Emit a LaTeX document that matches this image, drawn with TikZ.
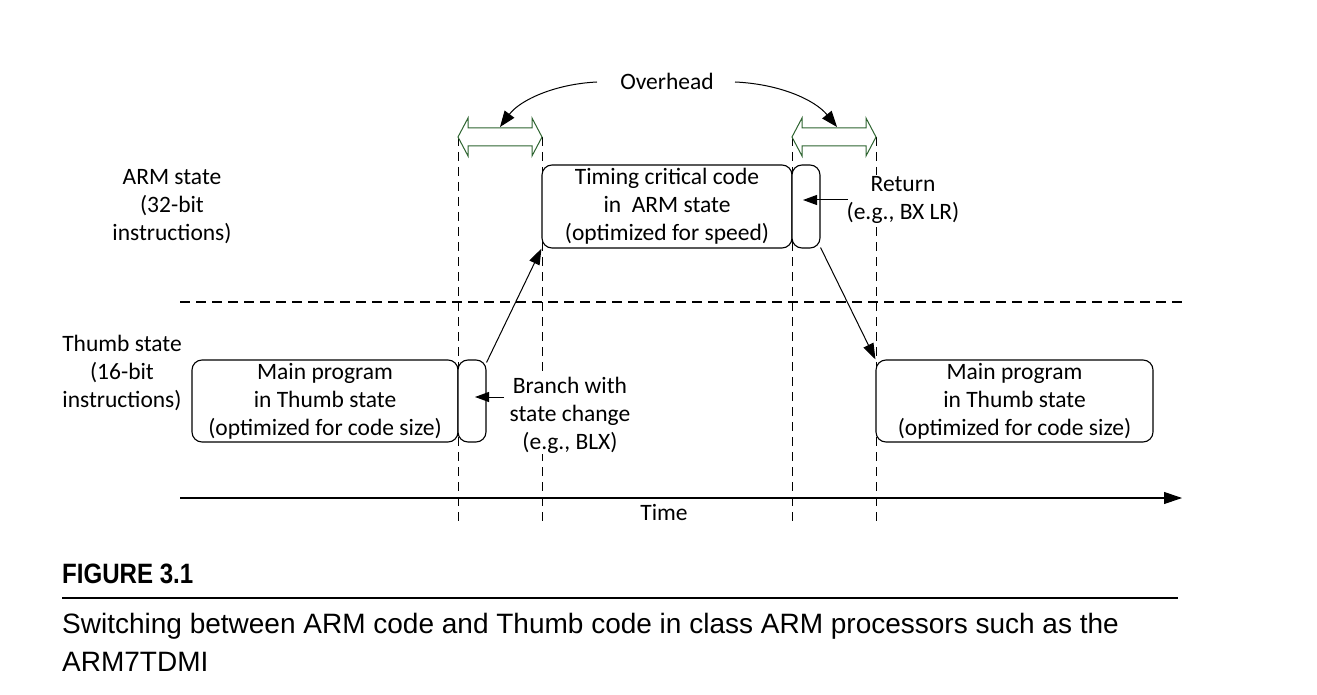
\documentclass[tikz,border=0pt]{standalone}
\usepackage{fontspec}
\setmainfont{Carlito}
\newfontfamily\capfont{Liberation Sans}
\newfontfamily\figfont[FakeStretch=0.86]{Liberation Sans}
\usetikzlibrary{arrows.meta,calc}
\definecolor{ovgreen}{RGB}{46,100,48}
\tikzset{
  box/.style={draw, line width=1.1pt, rounded corners=10pt, fill=white, align=center,
    inner sep=0pt, font=\fontsize{23.5}{28}\selectfont},
  lbl/.style={align=center, inner sep=1pt, font=\fontsize{23.5}{28}\selectfont},
  vdash/.style={line width=1pt, dash pattern=on 9pt off 6pt},
  hdash/.style={line width=1.1pt, dash pattern=on 10pt off 6pt},
  conn/.style={line width=1pt, -{Triangle[length=16pt,width=11pt]}},
  pointer/.style={line width=1pt, -{Triangle[length=14pt,width=10pt]}},
  curvy/.style={line width=1pt, -{Triangle[length=16pt,width=12pt]}},
  dbl/.style={draw=ovgreen, line width=1pt, fill=white, line join=miter},
}
\begin{document}
\begin{tikzpicture}[x=1pt,y=-1pt]
\useasboundingbox (0,0) rectangle (1317,695);
% dashed separators
\draw[hdash] (180,302) -- (1182,302);
\foreach \xx in {458,542,792,876}
  \draw[vdash] (\xx,137) -- (\xx,526);
% time axis
\coordinate (t0) at (180,498);
\coordinate (t1) at (1182,498);
\draw[line width=1.1pt, -{Triangle[length=18pt,width=12pt]}] (t0) -- (t1);
\node[lbl] (time) at (664,512) {Time};
% overhead double arrows
\foreach \xa/\xb in {458/542,792/876}{
  \draw[dbl] (\xa,137) -- (\xa+10,118) -- (\xa+10,128) -- (\xb-10,128) -- (\xb-10,118)
    -- (\xb,137) -- (\xb-10,156) -- (\xb-10,146) -- (\xa+10,146) -- (\xa+10,156) -- cycle;
}
\coordinate (ovL) at (500,127);
\coordinate (ovR) at (837,127);
\node[lbl] (ov) at (667,81) {Overhead};
\draw[curvy] (597,82) .. controls (555,84) and (520,100) .. (ovL);
\draw[curvy] (735,82) .. controls (780,84) and (815,100) .. (ovR);
% boxes
\node[box, minimum width=266pt, minimum height=82pt] (thumbL) at (325,401)
  {Main program\\in Thumb state\\(optimized for code size)};
\node[box, minimum width=28pt, minimum height=82pt] (brL) at (472,401) {};
\node[box, minimum width=250pt, minimum height=83pt] (arm) at (667,206.5)
  {Timing critical code\\in\ \ ARM state\\(optimized for speed)};
\node[box, minimum width=28pt, minimum height=83pt] (ret) at (806,206.5) {};
\node[box, minimum width=277pt, minimum height=82pt] (thumbR) at (1014.5,401)
  {Main program\\in Thumb state\\(optimized for code size)};
% state labels
\node[lbl] (armst) at (172,207) {ARM state\\(32-bit\\instructions)};
\node[lbl] (thst) at (122,373) {Thumb state\\(16-bit\\instructions)};
% transitions
\draw[conn] ([yshift=-3pt]brL.north east) -- (arm.south west);
\draw[conn] ([yshift=1pt]ret.south east) -- (thumbR.north west);
% side labels
\node[lbl, fill=white] (brtxt) at (570,415) {Branch with\\state change\\(e.g., BLX)};
\node[lbl, fill=white] (rettxt) at (903,199.5) {Return\\(e.g., BX LR)};
\coordinate (bp) at (504,397);
\coordinate (rp) at (848,200);
\draw[pointer] (bp) -- ([xshift=3pt]bp -| brL.center);
\draw[pointer] (rp) -- ([xshift=-3pt]rp -| ret.center);
% caption
\node[anchor=base west, inner sep=0pt, font=\figfont\bfseries\fontsize{28}{32}\selectfont] (fig) at (62,583) {FIGURE 3.1};
\coordinate (r0) at (62,598);
\coordinate (r1) at (1178,598);
\draw[line width=2.5pt] (r0) -- (r1);
\node[anchor=base west, inner sep=0pt, align=left, font=\capfont\fontsize{28}{38}\selectfont] (cap) at (62,671)
  {Switching between ARM code and Thumb code in class ARM processors such as the\\ARM7TDMI};
\end{tikzpicture}
\end{document}
